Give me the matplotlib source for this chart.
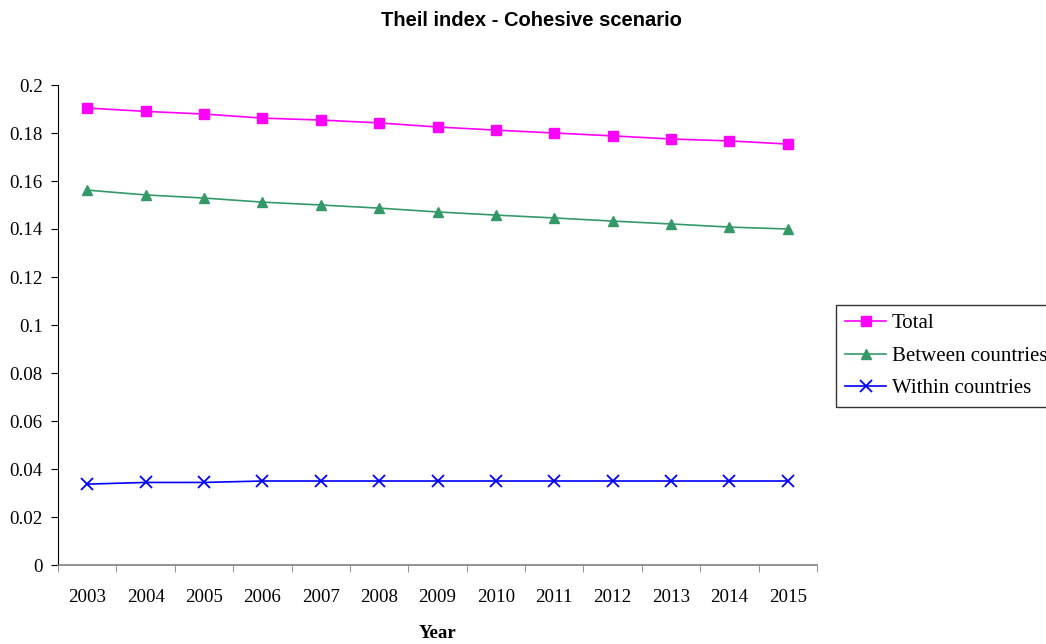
import matplotlib
matplotlib.use("Agg")
import matplotlib.pyplot as plt
import numpy as np

years = ["2003", "2004", "2005", "2006", "2007", "2008", "2009",
         "2010", "2011", "2012", "2013", "2014", "2015"]
total = [0.1904, 0.1890, 0.1879, 0.1862, 0.1854, 0.1842, 0.1825,
         0.1812, 0.1800, 0.1788, 0.1775, 0.1767, 0.1754]
between = [0.1562, 0.1542, 0.1529, 0.1512, 0.1500, 0.1487, 0.1471,
           0.1458, 0.1446, 0.1433, 0.1421, 0.1408, 0.1400]
within = [0.0337, 0.0344, 0.0344, 0.0350, 0.0350, 0.0350, 0.0350,
          0.0350, 0.0350, 0.0350, 0.0350, 0.0350, 0.0350]

serif = ["Liberation Serif", "DejaVu Serif"]

fig = plt.figure(figsize=(10.46, 6.44), dpi=100)
ax = fig.add_axes([58/1046, 1-565/644, (817-58)/1046, (565-85)/644])

x = np.arange(len(years))
ax.plot(x, total, color="#FF00FF", marker="s", markersize=7, lw=1.2, label="Total")
ax.plot(x, between, color="#339966", marker="^", markersize=7.5, lw=1.2, label="Between countries")
ax.plot(x, within, color="#0000FF", marker="x", markersize=8, mew=1.3, lw=1.2, label="Within countries")

ax.set_xlim(-0.5, len(years)-0.5)
ax.set_ylim(0, 0.2)
ax.set_yticks(np.arange(0, 0.201, 0.02))
ax.set_yticklabels(["0", "0.02", "0.04", "0.06", "0.08", "0.1", "0.12",
                    "0.14", "0.16", "0.18", "0.2"], family=serif, fontsize=13.6)
ax.set_xticks(x)
ax.set_xticklabels(years, family=serif, fontsize=13.6)
ax.set_xticks(np.arange(-0.5, len(years)), minor=True)
ax.tick_params(axis="x", which="major", length=0, pad=17)
ax.tick_params(axis="x", which="minor", length=5, direction="out", color="#808080")
ax.tick_params(axis="y", length=5, direction="out", pad=6)

ax.spines["top"].set_visible(False)
ax.spines["right"].set_visible(False)
ax.spines["bottom"].set_color("#808080")
ax.spines["bottom"].set_linewidth(1.2)

ax.set_xlabel("Year", family=serif, fontsize=13.6, fontweight="bold", labelpad=14)
fig.text(531/1046, 1-21/644, "Theil index - Cohesive scenario", ha="center", va="center",
         family=["Liberation Sans", "DejaVu Sans"], fontsize=14.5, fontweight="bold")

leg = fig.legend(loc="upper left", bbox_to_anchor=(836/1046, 1-305/644),
                 prop={"family": serif, "size": 15}, frameon=True, fancybox=False,
                 edgecolor="black", handlelength=2.0, handletextpad=0.25,
                 borderpad=0.42, labelspacing=0.62, borderaxespad=0)
leg.get_frame().set_linewidth(1.0)

fig.savefig("out.png", dpi=100)
